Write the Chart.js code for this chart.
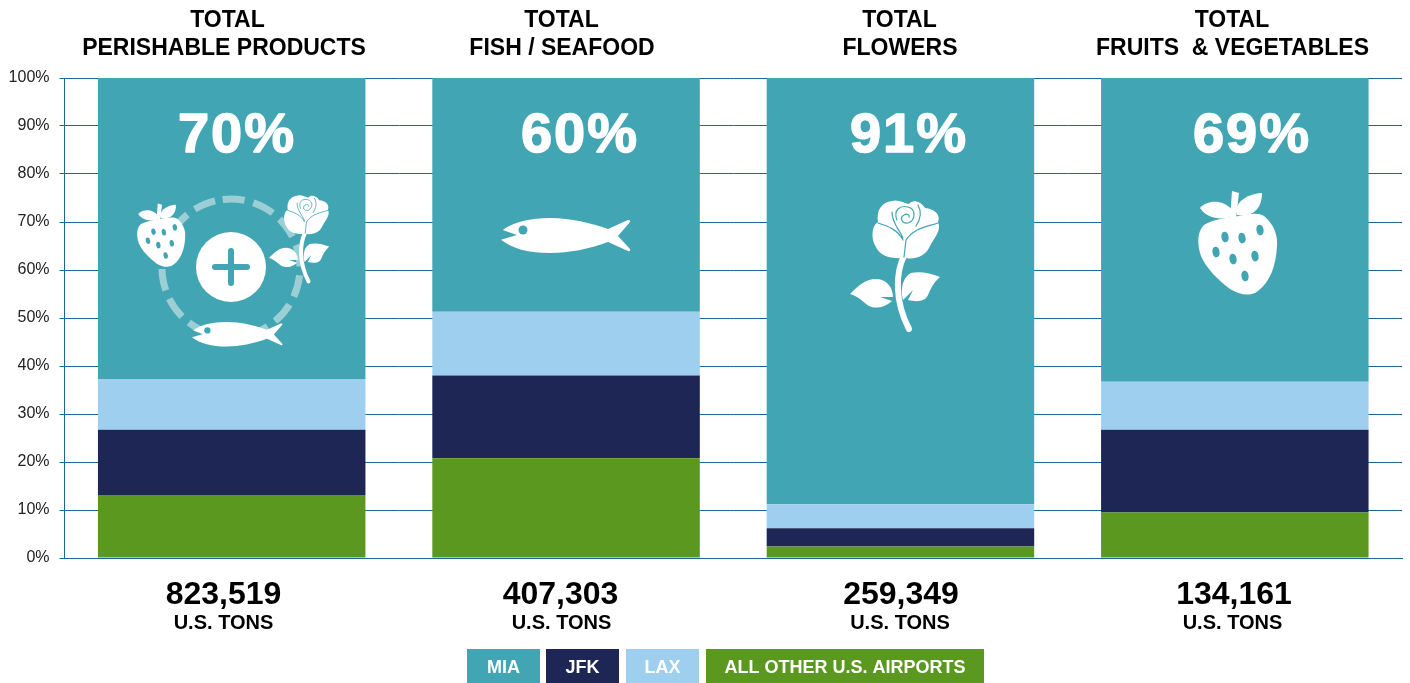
<!DOCTYPE html>
<html>
<head>
<meta charset="utf-8">
<title>Perishable products by airport</title>
<script src="https://cdn.jsdelivr.net/npm/chart.js@4"></script>
<style>
    html, body { margin: 0; padding: 0; background: #fff; overflow: hidden; }
    canvas { display: block; }
</style>
</head>
<body>
<canvas id="perishableChart" width="1410" height="683"></canvas>
<script>
const categories = ["Perishable products", "Fish / seafood", "Flowers", "Fruits & vegetables"];
const otherValues = [13.1, 20.8, 2.4, 9.5];
const jfkValues = [13.6, 17.2, 3.8, 17.2];
const laxValues = [10.6, 13.3, 5.0, 10.0];
const miaValues = [62.7, 48.7, 88.8, 63.3];
const miaShares = ["70%", "60%", "91%", "69%"];
const titles = [
    ["TOTAL", "PERISHABLE PRODUCTS"],
    ["TOTAL", "FISH / SEAFOOD"],
    ["TOTAL", "FLOWERS"],
    ["TOTAL", "FRUITS  & VEGETABLES"],
];
const totals = ["823,519", "407,303", "259,349", "134,161"];
const unitLabel = "U.S. TONS";
const legendNames = ["MIA", "JFK", "LAX", "ALL OTHER U.S. AIRPORTS"];

const TEAL = "#42a5b3";
const NAVY = "#1d2654";
const SKY = "#9ecfef";
const GREEN = "#5b981f";
const GRID = "#1a6a96";
const FONT = '"Liberation Sans", Arial, sans-serif';

// hand placed text centres, the original slide is not quite regular
const titleCentres = [[227.5, 224], [561.5, 562], [899.5, 900], [1232, 1232.5]];
const shareCentres = [237, 580, 909, 1252];
const totalCentres = [223.5, 560.5, 901, 1234];
const unitCentres = [223.5, 561.5, 900, 1232.5];
const legendBoxes = [[467, 73], [546, 73], [626, 73], [706, 278]];

// y is the middle of the capitals
function text(ctx, str, x, y, size, color, heavy) {
    ctx.font = `bold ${size}px ${FONT}`;
    ctx.fillStyle = color;
    ctx.textAlign = "center";
    ctx.textBaseline = "alphabetic";
    ctx.letterSpacing = heavy ? "2px" : "0px";
    const base = y + size * 0.345;
    ctx.fillText(str, x, base);
    if (heavy) {
        ctx.strokeStyle = color;
        ctx.lineWidth = heavy;
        ctx.lineJoin = "round";
        ctx.strokeText(str, x, base);
    }
    ctx.letterSpacing = "0px";
}

// icons are drawn in their own pixel box and scaled to where they sit
function drawFish(ctx, x, y, s) {
    ctx.save();
    ctx.translate(x, y);
    ctx.scale(s, s);
    ctx.fillStyle = "#fff";
    ctx.beginPath();
    ctx.moveTo(1.7, 12);
    ctx.bezierCurveTo(12, 4, 30, 0, 49, 0);
    ctx.bezierCurveTo(70, 0, 90, 5, 107, 11);
    ctx.lineTo(127, 2);
    ctx.quadraticCurveTo(130, 2, 129, 4);
    ctx.lineTo(117, 18);
    ctx.lineTo(129, 31);
    ctx.quadraticCurveTo(130, 34, 127, 33);
    ctx.lineTo(107, 24);
    ctx.bezierCurveTo(88, 31, 68, 35, 49, 35);
    ctx.bezierCurveTo(28, 35, 12, 31, 0, 21.7);
    ctx.lineTo(16, 17);
    ctx.closePath();
    ctx.fill();
    ctx.fillStyle = TEAL;
    ctx.beginPath();
    ctx.arc(22, 12, 4.5, 0, Math.PI * 2);
    ctx.fill();
    ctx.restore();
}

function drawRose(ctx, x, y, s) {
    ctx.save();
    ctx.translate(x, y);
    ctx.scale(s, s);
    ctx.fillStyle = "#fff";
    ctx.strokeStyle = "#fff";
    // stem
    ctx.lineCap = "round";
    ctx.lineWidth = 6;
    ctx.beginPath();
    ctx.moveTo(54, 56);
    ctx.bezierCurveTo(46, 72, 44, 100, 59, 129);
    ctx.stroke();
    // head
    ctx.beginPath();
    ctx.moveTo(42, 1);
    ctx.bezierCurveTo(32, 2, 26, 10, 28, 22);
    ctx.bezierCurveTo(21, 26, 21, 40, 26, 47);
    ctx.bezierCurveTo(30, 56, 40, 59, 54, 58);
    ctx.bezierCurveTo(68, 60, 76, 55, 80, 46);
    ctx.bezierCurveTo(84, 38, 92, 30, 88, 22);
    ctx.bezierCurveTo(91, 14, 84, 9, 75, 8);
    ctx.bezierCurveTo(71, 1, 62, -1, 59, 4);
    ctx.bezierCurveTo(54, 3, 48, -1, 42, 1);
    ctx.fill();
    // left leaf
    ctx.beginPath();
    ctx.moveTo(0, 94);
    ctx.bezierCurveTo(8, 86, 16, 78, 28, 79);
    ctx.bezierCurveTo(37, 80, 43, 88, 43, 97);
    ctx.lineTo(30, 97);
    ctx.lineTo(42, 101);
    ctx.bezierCurveTo(34, 108, 26, 109, 19, 106);
    ctx.bezierCurveTo(13, 102, 8, 96, 0, 94);
    ctx.fill();
    // right leaf
    ctx.beginPath();
    ctx.moveTo(90, 77);
    ctx.bezierCurveTo(80, 73, 70, 71, 61, 73);
    ctx.bezierCurveTo(53, 77, 50, 88, 53, 100);
    ctx.lineTo(63, 90);
    ctx.lineTo(58, 100);
    ctx.bezierCurveTo(66, 102, 75, 102, 78, 95);
    ctx.bezierCurveTo(81, 88, 84, 82, 90, 77);
    ctx.fill();
    // petal lines
    ctx.strokeStyle = TEAL;
    ctx.lineWidth = 1.2;
    ctx.beginPath();
    ctx.moveTo(28, 23);
    ctx.bezierCurveTo(38, 26, 48, 30, 53, 40);
    ctx.moveTo(88, 23);
    ctx.bezierCurveTo(76, 27, 64, 28, 56, 40);
    ctx.lineTo(54, 57);
    ctx.moveTo(42, 12);
    ctx.bezierCurveTo(42, 24, 50, 30, 53, 38);
    ctx.moveTo(68, 5);
    ctx.bezierCurveTo(72, 12, 70, 20, 66, 26);
    ctx.moveTo(47, 20);
    ctx.bezierCurveTo(43, 10, 50, 5, 58, 7);
    ctx.bezierCurveTo(66, 9, 66, 20, 58, 23);
    ctx.bezierCurveTo(52, 24, 49, 18, 54, 15);
    ctx.bezierCurveTo(57, 13, 60, 15, 59, 17);
    ctx.stroke();
    ctx.restore();
}

function drawStrawberry(ctx, x, y, s) {
    ctx.save();
    ctx.translate(x, y);
    ctx.scale(s, s);
    ctx.fillStyle = "#fff";
    // body
    ctx.beginPath();
    ctx.moveTo(36, 27);
    ctx.bezierCurveTo(48, 24, 60, 22, 66, 26);
    ctx.bezierCurveTo(76, 34, 80, 46, 79, 56);
    ctx.bezierCurveTo(78, 76, 72, 92, 60, 101);
    ctx.bezierCurveTo(52, 107, 42, 105, 32, 99);
    ctx.bezierCurveTo(20, 90, 8, 78, 3, 66);
    ctx.bezierCurveTo(-1, 54, -1, 42, 6, 35);
    ctx.bezierCurveTo(14, 30, 26, 28, 36, 27);
    ctx.fill();
    // left leaf
    ctx.beginPath();
    ctx.moveTo(2, 18);
    ctx.bezierCurveTo(8, 11, 24, 8, 34, 20);
    ctx.lineTo(34, 27);
    ctx.bezierCurveTo(20, 31, 8, 27, 2, 18);
    ctx.fill();
    // stem
    ctx.beginPath();
    ctx.moveTo(34, 1);
    ctx.lineTo(41, 3);
    ctx.lineTo(38, 28);
    ctx.lineTo(32, 28);
    ctx.closePath();
    ctx.fill();
    // right leaf
    ctx.beginPath();
    ctx.moveTo(64, 3);
    ctx.bezierCurveTo(50, 4, 40, 10, 38, 20);
    ctx.lineTo(39, 25);
    ctx.bezierCurveTo(54, 27, 64, 20, 64, 3);
    ctx.fill();
    // seeds
    ctx.fillStyle = TEAL;
    [[27, 47], [44, 48], [62, 40], [18, 62], [35, 69], [57, 66], [47, 86]].forEach(([sx, sy]) => {
        ctx.beginPath();
        ctx.ellipse(sx, sy, 3.6, 5.4, -0.15, 0, Math.PI * 2);
        ctx.fill();
    });
    ctx.restore();
}

function drawCombo(ctx) {
    // dashed ring behind the three small icons
    ctx.save();
    ctx.strokeStyle = "#9bcfd5";
    ctx.lineWidth = 7;
    ctx.setLineDash([22, 9]);
    ctx.beginPath();
    ctx.arc(231, 268, 69, -Math.PI / 2 - 0.12, Math.PI * 1.5 - 0.12);
    ctx.stroke();
    ctx.restore();
    // plus badge
    ctx.fillStyle = "#fff";
    ctx.beginPath();
    ctx.arc(231, 267, 35, 0, Math.PI * 2);
    ctx.fill();
    ctx.strokeStyle = TEAL;
    ctx.lineWidth = 6;
    ctx.lineCap = "round";
    ctx.beginPath();
    ctx.moveTo(215, 267);
    ctx.lineTo(247, 267);
    ctx.moveTo(231, 251);
    ctx.lineTo(231, 283);
    ctx.stroke();
    drawStrawberry(ctx, 137, 203, 0.61);
    drawRose(ctx, 269, 195, 0.67);
    drawFish(ctx, 192, 322, 0.7);
}

const slideText = {
    id: "slideText",
    afterDatasetsDraw(chart) {
        const ctx = chart.ctx;
        ctx.save();
        titles.forEach((lines, i) => {
            lines.forEach((line, n) => {
                text(ctx, line, titleCentres[i][n], 19 + n * 28, 23, "#000");
            });
            text(ctx, miaShares[i], shareCentres[i], 133, 56, "#fff", 1.5);
            text(ctx, totals[i], totalCentres[i], 593, 32, "#000");
            text(ctx, unitLabel, unitCentres[i], 622, 20, "#000");
        });

        drawCombo(ctx);
        drawFish(ctx, 501, 218, 1);
        drawRose(ctx, 850, 200, 1);
        drawStrawberry(ctx, 1198, 190, 1);

        const legendColors = [TEAL, NAVY, SKY, GREEN];
        legendNames.forEach((name, i) => {
            const [left, width] = legendBoxes[i];
            ctx.fillStyle = legendColors[i];
            ctx.fillRect(left, 649, width, 34);
            text(ctx, name, left + width / 2, 667, 18, "#fff");
        });
        ctx.restore();
    },
};

document.addEventListener("DOMContentLoaded", () => {
    const ctx = document.getElementById("perishableChart").getContext("2d");
    const series = (label, data, color) => ({
        label: label,
        data: data,
        backgroundColor: color,
        borderWidth: 0,
        barPercentage: 0.8,
        categoryPercentage: 1,
    });

    new Chart(ctx, {
        type: "bar",
        data: {
            labels: categories,
            datasets: [
                series("All other U.S. airports", otherValues, GREEN),
                series("JFK", jfkValues, NAVY),
                series("LAX", laxValues, SKY),
                series("MIA", miaValues, TEAL),
            ],
        },
        options: {
            responsive: false,
            animation: false,
            layout: { padding: { top: 78, bottom: 117, right: 8, left: 0 } },
            plugins: {
                legend: { display: false },
                title: { display: false },
                tooltip: { enabled: false },
            },
            scales: {
                x: {
                    stacked: true,
                    grid: { display: false },
                    border: { color: GRID, width: 1 },
                    ticks: { display: false },
                },
                y: {
                    stacked: true,
                    min: 0,
                    max: 100,
                    afterFit: (scale) => {
                        scale.width = 64.5;
                    },
                    grid: { color: GRID, lineWidth: 1, tickLength: 5 },
                    border: { color: GRID, width: 1 },
                    ticks: {
                        stepSize: 10,
                        padding: 10,
                        color: "#222",
                        font: { family: FONT, size: 16 },
                        callback: (value) => `${value}%`,
                    },
                },
            },
        },
        plugins: [slideText],
    });
});
</script>
</body>
</html>
